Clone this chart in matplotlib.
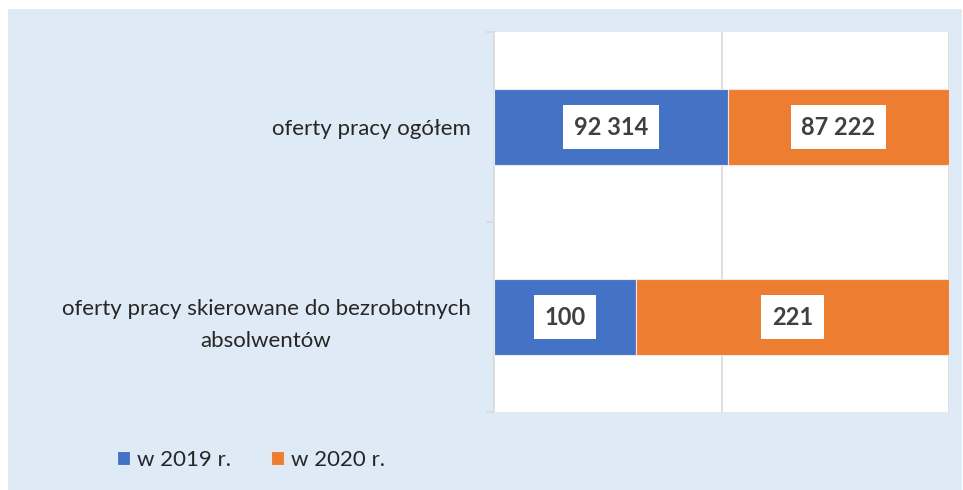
import matplotlib
matplotlib.use("Agg")
import matplotlib.pyplot as plt
from matplotlib.patches import Rectangle
import numpy as np

categories = ["oferty pracy skierowane do bezrobotnych\nabsolwentów", "oferty pracy ogółem"]
series_names = ["w 2019 r.", "w 2020 r."]
values_2019 = [100, 92314]
values_2020 = [221, 87222]
label_2019 = ["100", "92 314"]
label_2020 = ["221", "87 222"]

colors = ["#4472C4", "#ED7D31"]
bg = "#DEEAF6"
grid_c = "#D9D9D9"
text_c = "#404040"

W, H = 963, 490
fig = plt.figure(figsize=(W / 100, H / 100), dpi=100)
fig.patches.append(Rectangle((8 / W, 0), (W - 9) / W, (H - 9) / H,
                             transform=fig.transFigure, facecolor=bg,
                             edgecolor="none", zorder=-10))

ax = fig.add_axes([494 / W, (H - 412) / H, (949 - 494) / W, (412 - 32) / H])
ax.set_facecolor("white")

v19 = np.array(values_2019, dtype=float)
v20 = np.array(values_2020, dtype=float)
tot = v19 + v20
p19 = v19 / tot
p20 = v20 / tot
y = np.arange(len(categories))
bh = 0.405

ax.barh(y, p19, height=bh, color=colors[0], edgecolor="#E6ECF5", linewidth=0.8, zorder=3, label=series_names[0])
ax.barh(y, p20, left=p19, height=bh, color=colors[1], edgecolor="#F5E6DC", linewidth=0.8, zorder=3, label=series_names[1])

box = dict(boxstyle="square,pad=0.45", facecolor="white", edgecolor="none")
for i in range(len(categories)):
    ax.text(p19[i] / 2, y[i], label_2019[i], ha="center", va="center", fontsize=17,
            fontweight="bold", color=text_c, family="Lato", bbox=box, zorder=5)
    ax.text(p19[i] + p20[i] / 2, y[i], label_2020[i], ha="center", va="center", fontsize=17,
            fontweight="bold", color=text_c, family="Lato", bbox=box, zorder=5)

ax.set_xlim(0, 1)
ax.set_ylim(-0.5, len(categories) - 0.5)
ax.set_xticks([0.5, 1.0])
ax.xaxis.grid(True, color=grid_c, linewidth=1.2, zorder=0)
ax.tick_params(axis="x", length=0, labelbottom=False)

ax.set_yticks(y)
ax.set_yticklabels(categories, fontsize=16, color="#262626", family="Lato",
                   multialignment="center", linespacing=1.75)
ax.tick_params(axis="y", which="major", length=0, pad=17)
ax.set_yticks(np.arange(-0.5, len(categories)), minor=True)
ax.tick_params(axis="y", which="minor", length=6, color=grid_c, width=1.2)

for s in ["top", "right", "bottom"]:
    ax.spines[s].set_visible(False)
ax.spines["left"].set_color(grid_c)
ax.spines["left"].set_linewidth(1.2)

handles, labels = ax.get_legend_handles_labels()
leg = fig.legend(handles, labels, loc="center left", bbox_to_anchor=(97 / W, 1 - 460 / H),
                 ncol=2, frameon=False, handlelength=0.6, handleheight=0.6,
                 handletextpad=0.3, columnspacing=1.8, prop={"family": "Lato", "size": 16})
for t in leg.get_texts():
    t.set_color("#262626")

fig.savefig("out.png", dpi=100)
